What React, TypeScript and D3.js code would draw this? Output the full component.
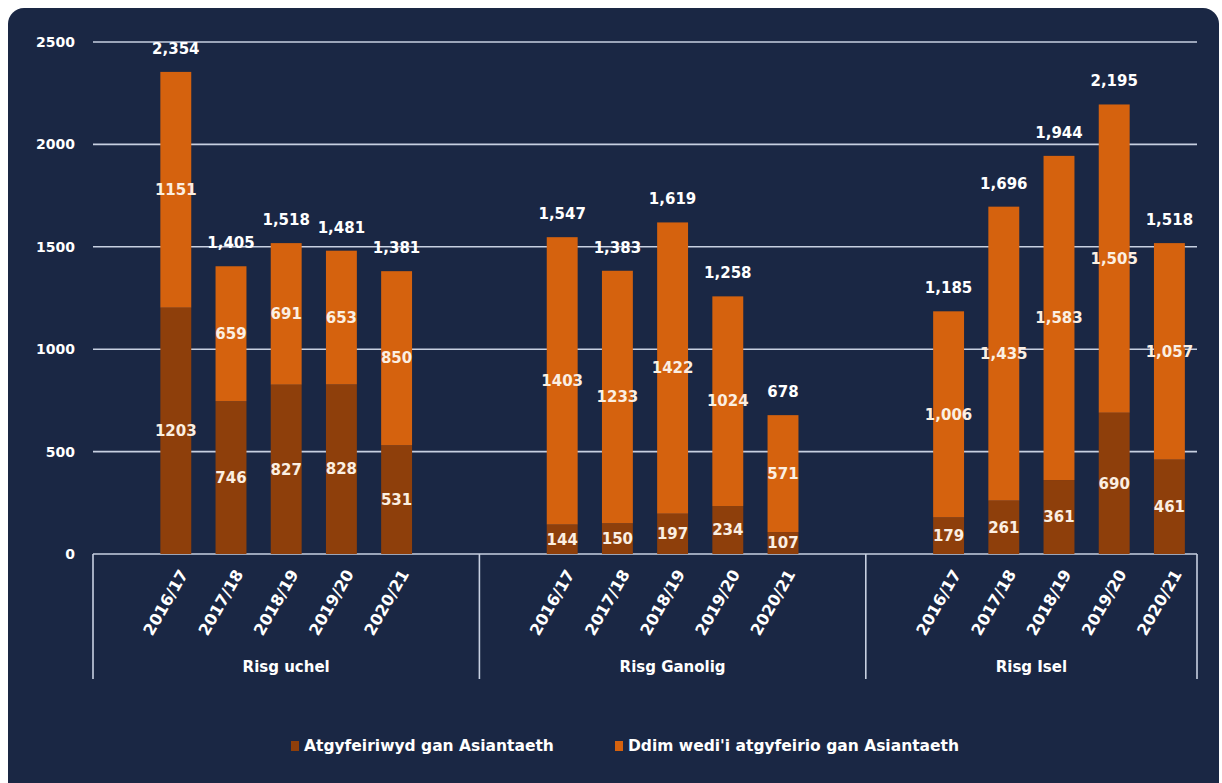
import React from "react";
import * as d3 from "d3";

const years = ["2016/17", "2017/18", "2018/19", "2019/20", "2020/21"];
const groups = ["Risg uchel", "Risg Ganolig", "Risg Isel"];
const seriesNames = ["Atgyfeiriwyd gan Asiantaeth", "Ddim wedi'i atgyfeirio gan Asiantaeth"];
const referred = [
  [1203, 746, 827, 828, 531],
  [144, 150, 197, 234, 107],
  [179, 261, 361, 690, 461],
];
const notReferred = [
  [1151, 659, 691, 653, 850],
  [1403, 1233, 1422, 1024, 571],
  [1006, 1435, 1583, 1505, 1057],
];
const segmentThousandsSep = [false, false, true];
const yTicks = [0, 500, 1000, 1500, 2000, 2500];

const W = 1222;
const H = 783;
const M = { left: 93, right: 1197, top: 42, bottom: 554 };
const COLORS = ["#8e3f0b", "#d5620e"];
const BG = "#1a2744";
const GRID = "#c7d0e1";
const FONT = "'DejaVu Sans', Verdana, sans-serif";

type Slot = { key: string; group: number; year: number | null };

export default function App() {
  const slots: Slot[] = [];
  const boundaries: number[] = [0];
  groups.forEach((g, gi) => {
    slots.push({ key: `b${gi}a`, group: gi, year: null });
    years.forEach((y, yi) => slots.push({ key: `${gi}-${yi}`, group: gi, year: yi }));
    if (gi < groups.length - 1) slots.push({ key: `b${gi}b`, group: gi, year: null });
    boundaries.push(slots.length);
  });

  const x = d3
    .scaleBand<string>()
    .domain(slots.map((s) => s.key))
    .range([M.left, M.right])
    .paddingInner(0.44)
    .paddingOuter(0.22);
  const step = x.step();
  const bw = x.bandwidth();
  const y = d3.scaleLinear().domain([0, 2500]).range([M.bottom, M.top]);

  const fmtComma = d3.format(",");
  const fmtPlain = d3.format("d");

  const bars: React.ReactNode[] = [];
  const labels: React.ReactNode[] = [];
  const xLabels: React.ReactNode[] = [];

  slots.forEach((s) => {
    if (s.year === null) return;
    const gi = s.group;
    const yi = s.year;
    const a = referred[gi][yi];
    const b = notReferred[gi][yi];
    const total = a + b;
    const x0 = x(s.key)!;
    const cx = x0 + bw / 2;
    const stack = d3.stack<number[]>().keys(["0", "1"]).value((d, k) => d[+k])([[a, b]]);
    stack.forEach((layer, li) => {
      const [v0, v1] = layer[0];
      bars.push(
        <rect
          key={`bar-${s.key}-${li}`}
          x={x0}
          y={y(v1)}
          width={bw}
          height={y(v0) - y(v1)}
          fill={COLORS[li]}
        />
      );
      const val = li === 0 ? a : b;
      const f = segmentThousandsSep[gi] ? fmtComma : fmtPlain;
      labels.push(
        <text
          key={`lab-${s.key}-${li}`}
          x={cx}
          y={(y(v0) + y(v1)) / 2}
          dy="0.35em"
          textAnchor="middle"
          fill="#fbefe2"
          fontSize={15}
          fontWeight={700}
          fontFamily={FONT}
        >
          {f(val)}
        </text>
      );
    });
    labels.push(
      <text
        key={`tot-${s.key}`}
        x={cx}
        y={y(total) - 18}
        textAnchor="middle"
        fill="#ffffff"
        fontSize={15}
        fontWeight={700}
        fontFamily={FONT}
      >
        {fmtComma(total)}
      </text>
    );
    xLabels.push(
      <text
        key={`xl-${s.key}`}
        transform={`translate(${cx + 8},${M.bottom + 17}) rotate(-60)`}
        textAnchor="end"
        dy="0.35em"
        fill="#ffffff"
        fontSize={16}
        fontWeight={700}
        fontFamily={FONT}
      >
        {years[yi]}
      </text>
    );
  });

  return (
    <svg
      width={W}
      height={H}
      style={{ position: "absolute", left: 0, top: 0, display: "block" }}
    >
      <rect x={0} y={0} width={W} height={H} fill="#ffffff" />
      <rect x={8} y={8} width={1211} height={790} rx={16} fill={BG} />
      {yTicks.map((t) => (
        <g key={`yt-${t}`}>
          <line x1={M.left} x2={M.right} y1={y(t)} y2={y(t)} stroke={GRID} strokeWidth={1.6} />
          <text
            x={75}
            y={y(t)}
            dy="0.35em"
            textAnchor="end"
            fill="#ffffff"
            fontSize={14}
            fontWeight={700}
            fontFamily={FONT}
          >
            {t}
          </text>
        </g>
      ))}
      {bars}
      {boundaries.map((bi, i) => {
        const xx = M.left + bi * step;
        return (
          <line
            key={`sep-${i}`}
            x1={xx}
            x2={xx}
            y1={M.bottom}
            y2={679}
            stroke={GRID}
            strokeWidth={1.6}
          />
        );
      })}
      {labels}
      {xLabels}
      {groups.map((g, gi) => {
        const cx = M.left + ((boundaries[gi] + boundaries[gi + 1]) / 2) * step;
        return (
          <text
            key={`g-${gi}`}
            x={cx}
            y={667}
            dy="0.35em"
            textAnchor="middle"
            fill="#ffffff"
            fontSize={15}
            fontWeight={700}
            fontFamily={FONT}
          >
            {g}
          </text>
        );
      })}
      {seriesNames.map((n, i) => {
        const lx = i === 0 ? 291 : 615;
        return (
          <g key={`leg-${i}`}>
            <rect x={lx} y={741} width={8} height={10} fill={COLORS[i]} />
            <text
              x={lx + 13}
              y={746}
              dy="0.35em"
              fill="#ffffff"
              fontSize={15.5}
              fontWeight={700}
              fontFamily={FONT}
            >
              {n}
            </text>
          </g>
        );
      })}
    </svg>
  );
}
